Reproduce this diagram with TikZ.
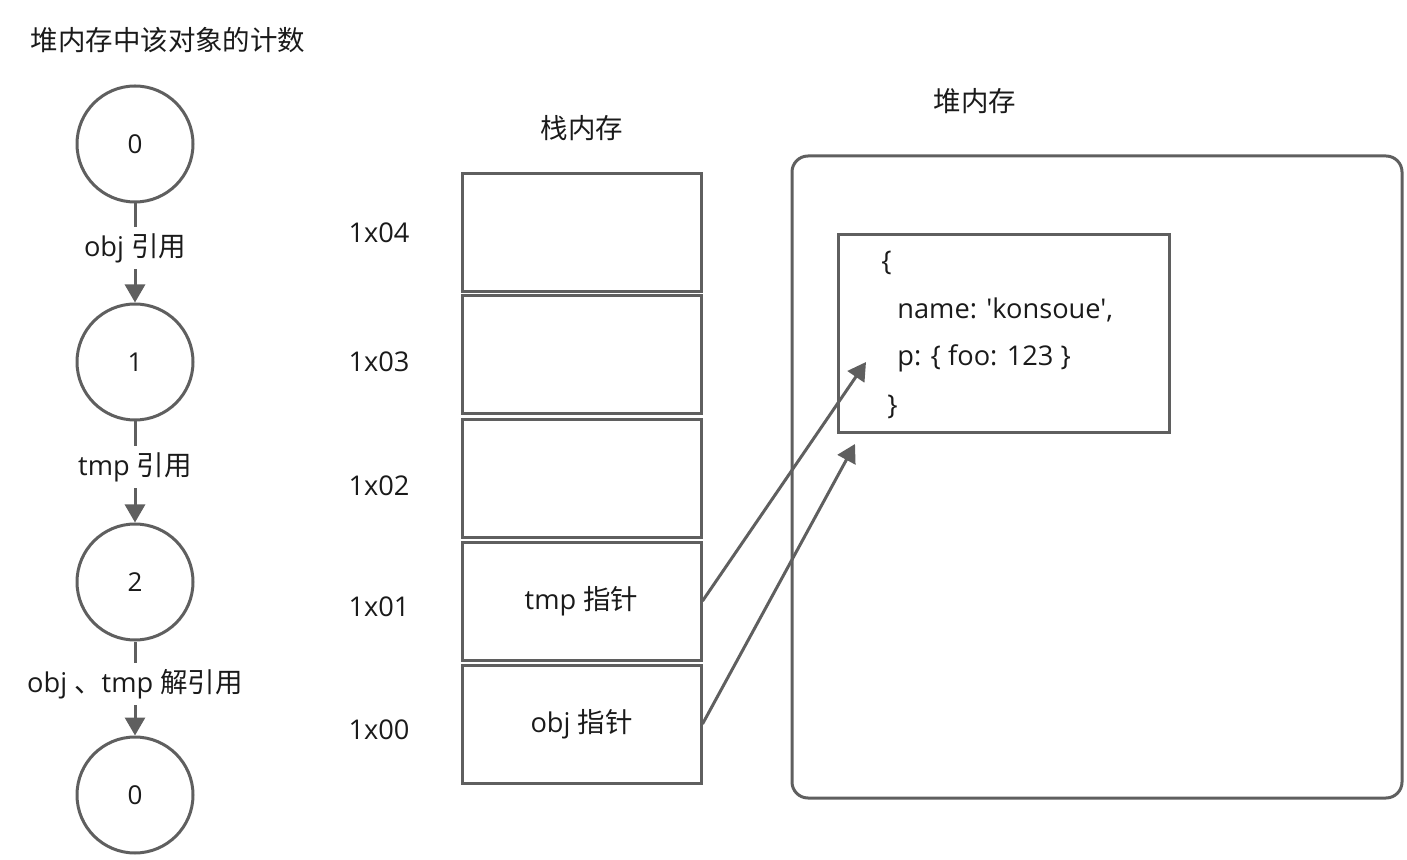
\documentclass[tikz,border=0pt]{standalone}
\usepackage{fontspec}
\setmainfont{Open Sans}[Ligatures=TeXOff]
\newfontfamily\cjk{Noto Sans CJK SC}[Scale=1.01]
\usetikzlibrary{arrows.meta}
\definecolor{ln}{HTML}{5F5F5F}
\definecolor{tx}{HTML}{1A1A1A}
\tikzset{
  lbl/.style={font=\fontsize{13.6pt}{16pt}\selectfont, text=tx, inner sep=1pt},
  cnt/.style={circle, draw=ln, line width=1.5pt, minimum size=58pt, inner sep=0pt, font=\fontsize{13pt}{16pt}\selectfont, text=tx},
  stackbox/.style={draw=ln, line width=1.5pt, minimum width=119.5pt, minimum height=59pt, inner sep=0pt, font=\fontsize{13.6pt}{16pt}\selectfont, text=tx},
  arr/.style={draw=ln, line width=1.5pt, -{Triangle[length=9pt,width=10pt]}},
  midlbl/.style={lbl, fill=white, inner sep=3pt}
}
\begin{document}
\begin{tikzpicture}[x=0.5pt,y=-0.5pt]
\useasboundingbox (0,0) rectangle (1407,860);
% title
\node[lbl] (title) at (168,40) {\cjk 堆内存中该对象的计数};
% count circles
\node[cnt] (c0) at (135,144) {0};
\node[cnt] (c1) at (135,362) {1};
\node[cnt] (c2) at (135,582) {2};
\node[cnt] (c3) at (135,795) {0};
\draw[arr] (c0.south) -- node[midlbl, pos=0.45] (l0) {obj {\cjk 引用}} (c1.north);
\draw[arr] (c1.south) -- node[midlbl, pos=0.45] (l1) {tmp {\cjk 引用}} (c2.north);
\draw[arr] (c2.south) -- node[midlbl, pos=0.45] (l2) {obj {\cjk 、}tmp {\cjk 解引用}} (c3.north);
% stack
\node[lbl] (stacktitle) at (582,128) {\cjk 栈内存};
\node[stackbox] (s4) at (581.5,233) {};
\node[stackbox] (s3) at (581.5,355) {};
\node[stackbox] (s2) at (581.5,478.5) {};
\node[stackbox] (s1) at (581.5,601) {tmp {\cjk 指针}};
\node[stackbox] (s0) at (581.5,724) {obj {\cjk 指针}};
\node[lbl] (a4) at (379,233) {1x04};
\node[lbl] (a3) at (379,362) {1x03};
\node[lbl] (a2) at (379,486) {1x02};
\node[lbl] (a1) at (379,607) {1x01};
\node[lbl] (a0) at (379,730) {1x00};
% heap
\node[lbl] (heaptitle) at (975,101) {\cjk 堆内存};
\draw[ln, line width=1.5pt, rounded corners=8pt] (792,156) rectangle (1402,798);
\draw[ln, line width=1.5pt] (838,235) rectangle (1169,433);
\node[lbl, anchor=west] (o1) at (879,263) {\{};
\node[lbl, anchor=west] (o2) at (895,310) {name: 'konsoue',};
\node[lbl, anchor=west] (o3) at (895,358) {p: \{ foo: 123 \}};
\node[lbl, anchor=west] (o4) at (885,407) {\}};
% pointers
\coordinate (h1) at (866,362);
\coordinate (h0) at (855,444);
\draw[arr] (s1.east) -- (h1);
\draw[arr] (s0.east) -- (h0);
\end{tikzpicture}
\end{document}
